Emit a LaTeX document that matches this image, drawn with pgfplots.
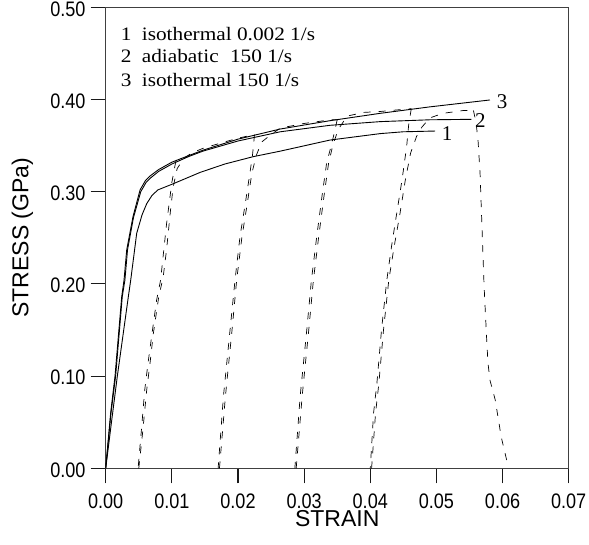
\documentclass[border=0pt]{standalone}
\usepackage{fontspec}
\setmainfont{Liberation Serif}
\newfontfamily\tickfont[FakeStretch=0.86]{Liberation Sans}
\newfontfamily\labfont{Liberation Sans}
\newfontfamily\legfont[FakeStretch=1.12]{Liberation Serif}
\usepackage{pgfplots}
\pgfplotsset{compat=1.18}
\begin{document}
\begin{tikzpicture}
\path[use as bounding box] (-105.7bp,-76.7bp) rectangle (483.3bp,468.3bp);
\begin{axis}[
  at={(0,0)}, anchor=south west,
  width=463bp, height=461bp, scale only axis,
  xmin=0, xmax=0.07, ymin=0, ymax=0.5,
  scaled x ticks=false, scaled y ticks=false,
  xtick={0,0.01,0.02,0.03,0.04,0.05,0.06,0.07},
  xticklabels={0.00,0.01,0.02,0.03,0.04,0.05,0.06,0.07},
  ytick={0,0.1,0.2,0.3,0.4,0.5},
  yticklabels={0.00,0.10,0.20,0.30,0.40,0.50},
  tick align=outside, major tick length=15bp,
  xtick pos=left, ytick pos=left,
  axis line style={line width=0.8bp, black!75},
  tick style={black!90, line width=1.1bp},
  xticklabel style={font=\fontsize{21bp}{21bp}\tickfont, inner sep=0pt, anchor=north, yshift=-10bp},
  yticklabel style={font=\fontsize{21bp}{21bp}\tickfont, inner sep=0pt, anchor=east, xshift=-5bp, yshift=-1.5bp},
  xlabel={STRAIN}, ylabel={STRESS (GPa)},
  xlabel style={font=\fontsize{23bp}{23bp}\labfont, at={(axis description cs:0.5,-0.126)}, anchor=base, inner sep=0pt},
  ylabel style={font=\fontsize{23bp}{23bp}\labfont, at={(axis description cs:-0.167,0.5)}, anchor=base, inner sep=0pt},
]
% curve 3: isothermal 150 1/s
\addplot[black, line width=0.9bp] coordinates {
(0,0) (0.00075,0.06) (0.00141,0.10) (0.00242,0.186) (0.00277,0.204) (0.00318,0.237)
(0.00413,0.273) (0.0052,0.302) (0.0060,0.312) (0.0067,0.317) (0.0080,0.324)
(0.0100,0.332) (0.0125,0.339) (0.0147,0.345) (0.0200,0.357) (0.0264,0.368)
(0.0339,0.377) (0.0415,0.385) (0.0490,0.392) (0.0581,0.3995)};
% curve 2: adiabatic 150 1/s
\addplot[black, line width=0.9bp] coordinates {
(0,0) (0.0008,0.06) (0.0015,0.10) (0.0025,0.186) (0.0029,0.204) (0.0033,0.237)
(0.0042,0.272) (0.0053,0.300) (0.0061,0.310) (0.0068,0.315) (0.0080,0.322)
(0.0100,0.330) (0.0125,0.338) (0.0147,0.344) (0.0200,0.355) (0.0264,0.365)
(0.0339,0.372) (0.0415,0.376) (0.0490,0.378) (0.0553,0.3785)};
% curve 1: isothermal 0.002 1/s
\addplot[black, line width=0.9bp] coordinates {
(0,0) (0.00105,0.06) (0.00176,0.10) (0.00342,0.186) (0.00378,0.204) (0.00469,0.255)
(0.0055,0.275) (0.0062,0.287) (0.0070,0.296) (0.0079,0.302) (0.0100,0.308)
(0.0143,0.321) (0.0180,0.330) (0.0223,0.338) (0.0264,0.344) (0.0339,0.356)
(0.0415,0.363) (0.0450,0.365) (0.0498,0.3658)};
% interrupted test (dashed)
\pgfplotsset{dsh/.style={black, line width=0.7bp, dash pattern=on 7bp off 8bp}}
\addplot[dsh] coordinates {(0.0106,0.333) (0.0100,0.310) (0.0092,0.265) (0.0083,0.204) (0.0077,0.1825) (0.0070,0.146) (0.0064,0.114) (0.0059,0.085) (0.0054,0.0415) (0.0049,0.0)};
\addplot[dsh] coordinates {(0.0050,0.0) (0.0056,0.040) (0.0062,0.085) (0.0067,0.114) (0.0072,0.146) (0.0080,0.185) (0.0087,0.208) (0.0092,0.237) (0.0098,0.28) (0.0102,0.305) (0.0108,0.325) (0.0118,0.336) (0.0130,0.342) (0.0147,0.347) (0.0175,0.353) (0.0200,0.358) (0.0225,0.362)};
\addplot[dsh] coordinates {(0.0225,0.362) (0.0222,0.340) (0.0218,0.32) (0.0211,0.287) (0.0203,0.251) (0.01955,0.204) (0.0188,0.15) (0.0178,0.078) (0.0170,0.0)};
\addplot[dsh] coordinates {(0.0172,0.0) (0.0181,0.078) (0.0191,0.15) (0.0198,0.204) (0.0206,0.251) (0.0214,0.287) (0.0221,0.32) (0.0228,0.340) (0.0236,0.354) (0.0250,0.362) (0.0264,0.369) (0.0300,0.374) (0.0340,0.378) (0.0350,0.378)};
\addplot[dsh] coordinates {(0.0350,0.378) (0.0346,0.365) (0.0341,0.350) (0.0334,0.331) (0.0327,0.295) (0.0319,0.251) (0.0311,0.204) (0.0304,0.15) (0.0294,0.078) (0.0286,0.0)};
\addplot[dsh] coordinates {(0.0288,0) (0.0297,0.078) (0.0307,0.15) (0.0314,0.204) (0.0322,0.251) (0.0330,0.295) (0.0337,0.331) (0.0344,0.352) (0.0352,0.368) (0.0365,0.382) (0.0390,0.386) (0.0415,0.387) (0.0445,0.389) (0.0462,0.390)};
\addplot[dsh] coordinates {(0.0462,0.390) (0.0458,0.372) (0.0455,0.349) (0.0448,0.3127) (0.0440,0.2766) (0.0432,0.240) (0.0425,0.204) (0.0417,0.15) (0.0410,0.092) (0.0405,0.06) (0.0400,0.0)};
\addplot[dsh] coordinates {(0.0402,0.0) (0.0408,0.06) (0.0413,0.092) (0.0420,0.15) (0.0428,0.204) (0.0436,0.240) (0.0445,0.2766) (0.0453,0.3127) (0.0461,0.342) (0.0470,0.360) (0.0478,0.370) (0.0490,0.380) (0.0510,0.385) (0.0540,0.388) (0.0556,0.388)};
\addplot[dsh] coordinates {(0.0556,0.388) (0.0560,0.375) (0.0563,0.355) (0.0566,0.32) (0.0569,0.26) (0.0572,0.199) (0.0576,0.14) (0.0578,0.114) (0.0581,0.0955) (0.0589,0.074) (0.0593,0.056) (0.0598,0.034) (0.0605,0.0126) (0.0608,0.004)};
% legend text
\node[anchor=base west, inner sep=0pt, font=\fontsize{19bp}{19bp}\legfont] at (axis description cs:0.0324,0.929) {\makebox[21bp][l]{1}isothermal 0.002 1/s};
\node[anchor=base west, inner sep=0pt, font=\fontsize{19bp}{19bp}\legfont] at (axis description cs:0.0324,0.8796) {\makebox[21bp][l]{2}adiabatic\hspace{6bp} 150 1/s};
\node[anchor=base west, inner sep=0pt, font=\fontsize{19bp}{19bp}\legfont] at (axis description cs:0.0324,0.829) {\makebox[21bp][l]{3}isothermal 150 1/s};
% curve labels
\node[anchor=base west, inner sep=0pt, font=\fontsize{21bp}{21bp}\selectfont] at (axis cs:0.05912,0.3897) {3};
\node[anchor=base west, inner sep=0pt, font=\fontsize{21bp}{21bp}\selectfont] at (axis cs:0.05584,0.3694) {2};
\node[anchor=base west, inner sep=0pt, font=\fontsize{21bp}{21bp}\selectfont] at (axis cs:0.0508,0.3550) {1};
\end{axis}
\end{tikzpicture}
\end{document}
